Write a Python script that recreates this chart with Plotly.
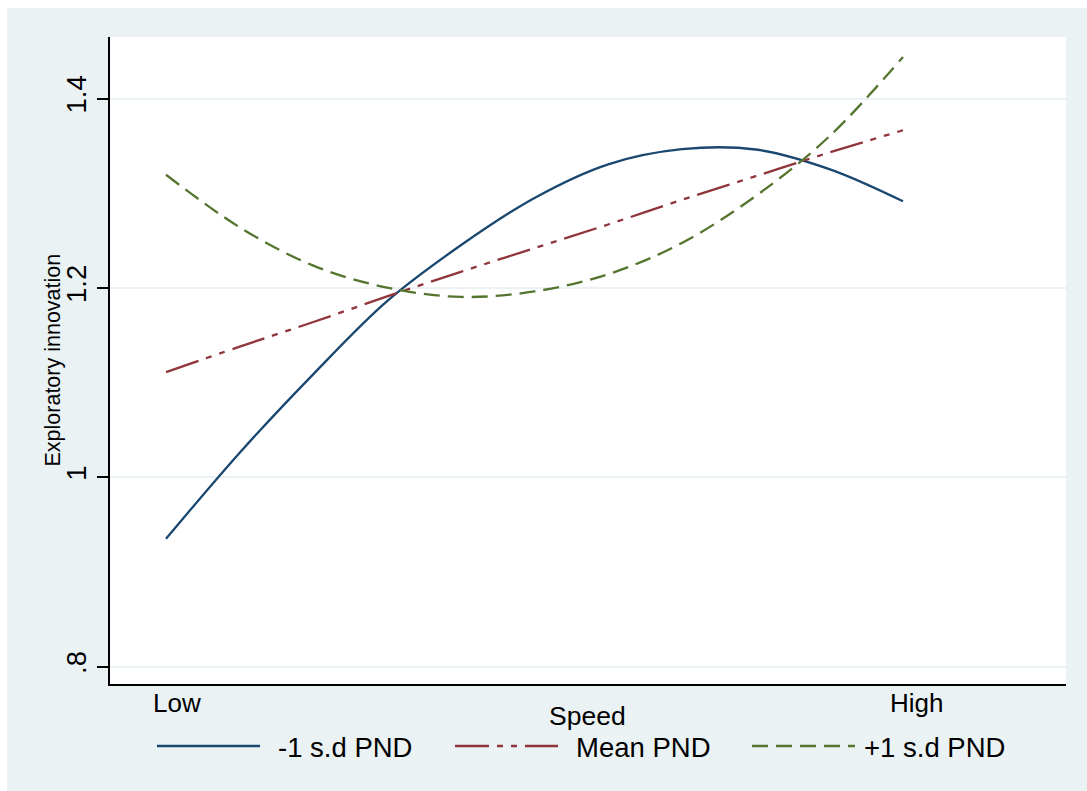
import plotly.graph_objects as go

# ---- data ----
speed = [0.0, 0.1, 0.2, 0.3, 0.4, 0.5, 0.6, 0.7, 0.8, 0.9, 1.0]
minus_sd = [0.935, 1.026, 1.109, 1.186, 1.245, 1.295, 1.3305, 1.3465, 1.3462, 1.3255, 1.2915]
mean_pnd = [1.111, 1.138, 1.164, 1.191, 1.217, 1.242, 1.267, 1.293, 1.318, 1.343, 1.3665]
plus_sd = [1.3195, 1.264, 1.2235, 1.2003, 1.1905, 1.1963, 1.2145, 1.2475, 1.297, 1.360, 1.444]

series_names = ["-1 s.d PND", "Mean PND", "+1 s.d PND"]
series_colors = ["#1A476F", "#90353B", "#55752F"]
series_dash = ["solid", "34px,8px,6px,8px,6px,8px", "16px,8px"]

x_tick_vals = [0.015, 1.019]
x_tick_text = ["Low", "High"]
y_tick_vals = [0.8, 1.0, 1.2, 1.4]
y_tick_text = [".8", "1", "1.2", "1.4"]

x_title = "Speed"
y_title = "Exploratory innovation"

FONT = "Liberation Sans, Arial, sans-serif"
BG = "#EAF2F3"

W, H = 1087, 791
L, R, T, B = 110, 21, 37, 107
pw, ph = W - L - R, H - T - B


def px_x(px):
    return (px - L) / pw


def px_y(py):
    return (H - B - py) / ph


fig = go.Figure()
for vals, name, col, dash in zip([minus_sd, mean_pnd, plus_sd], series_names, series_colors, series_dash):
    fig.add_trace(go.Scatter(
        x=speed, y=vals, mode="lines", name=name,
        line=dict(color=col, width=2.3, dash=dash, shape="spline", smoothing=1.0),
        showlegend=False,
    ))

shapes = [
    # white outer border strips (left and top)
    dict(type="rect", xref="paper", yref="paper", x0=-1, x1=px_x(7), y0=-1, y1=2,
         fillcolor="white", line=dict(width=0), layer="above"),
    dict(type="rect", xref="paper", yref="paper", x0=-1, x1=2, y0=px_y(8), y1=2,
         fillcolor="white", line=dict(width=0), layer="above"),
]

annotations = [
    dict(text=y_title, xref="paper", yref="paper", x=px_x(52), y=0.5, textangle=-90,
         showarrow=False, xanchor="center", yanchor="middle",
         font=dict(family=FONT, size=21.5, color="black")),
    dict(text=x_title, xref="paper", yref="paper", x=px_x(587), y=px_y(716),
         showarrow=False, xanchor="center", yanchor="middle",
         font=dict(family=FONT, size=26.5, color="black")),
]

# x-axis category labels (Low / High)
for tv, tt in zip(x_tick_vals, x_tick_text):
    annotations.append(dict(text=tt, xref="x", yref="paper", x=tv, y=px_y(703),
                            showarrow=False, xanchor="center", yanchor="middle",
                            font=dict(family=FONT, size=26, color="black")))

# manual legend (long line keys like the reference)
key_starts = [157, 455, 752]
text_starts = [276, 574, 862]
leg_y = px_y(746)
for name, col, dash, ks, ts in zip(series_names, series_colors, series_dash, key_starts, text_starts):
    shapes.append(dict(type="line", xref="paper", yref="paper",
                       x0=px_x(ks), x1=px_x(ks + 103), y0=leg_y, y1=leg_y,
                       line=dict(color=col, width=2.3, dash=dash), layer="above"))
    annotations.append(dict(text=name, xref="paper", yref="paper", x=px_x(ts), y=px_y(748),
                            showarrow=False, xanchor="left", yanchor="middle",
                            font=dict(family=FONT, size=27.5, color="black")))

fig.update_layout(
    width=W, height=H, autosize=False,
    margin=dict(l=L, r=R, t=T, b=B, pad=0),
    paper_bgcolor=BG, plot_bgcolor="white",
    font=dict(family=FONT, size=26, color="black"),
    shapes=shapes, annotations=annotations, showlegend=False,
    xaxis=dict(range=[-0.076, 1.2212], showticklabels=False,
               ticks="", showgrid=False, zeroline=False, showline=True,
               linecolor="black", linewidth=1.5),
    yaxis=dict(range=[0.7817, 1.465], tickvals=y_tick_vals, ticktext=y_tick_text,
               ticks="outside", ticklen=11, tickwidth=1.5, tickcolor="black",
               showgrid=True, gridcolor=BG, gridwidth=2, zeroline=False,
               showline=True, linecolor="black", linewidth=1.5, tickangle=-90,
               tickfont=dict(size=27.5, family=FONT)),
)

fig.write_html("out.html")
